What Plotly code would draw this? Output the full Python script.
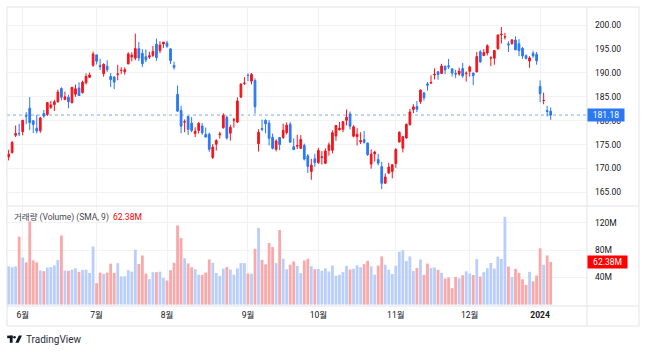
import plotly.graph_objects as go

W, H = 647, 352

dates = [
    "2023-05-25", "2023-05-26", "2023-05-30", "2023-05-31",
    "2023-06-01", "2023-06-02", "2023-06-05", "2023-06-06", "2023-06-07", "2023-06-08", "2023-06-09",
    "2023-06-12", "2023-06-13", "2023-06-14", "2023-06-15", "2023-06-16", "2023-06-20", "2023-06-21",
    "2023-06-22", "2023-06-23", "2023-06-26", "2023-06-27", "2023-06-28", "2023-06-29", "2023-06-30",
    "2023-07-03", "2023-07-05", "2023-07-06", "2023-07-07", "2023-07-10", "2023-07-11", "2023-07-12",
    "2023-07-13", "2023-07-14", "2023-07-17", "2023-07-18", "2023-07-19", "2023-07-20", "2023-07-21",
    "2023-07-24", "2023-07-25", "2023-07-26", "2023-07-27", "2023-07-28", "2023-07-31",
    "2023-08-01", "2023-08-02", "2023-08-03", "2023-08-04", "2023-08-07", "2023-08-08", "2023-08-09",
    "2023-08-10", "2023-08-11", "2023-08-14", "2023-08-15", "2023-08-16", "2023-08-17", "2023-08-18",
    "2023-08-21", "2023-08-22", "2023-08-23", "2023-08-24", "2023-08-25", "2023-08-28", "2023-08-29",
    "2023-08-30", "2023-08-31",
    "2023-09-01", "2023-09-05", "2023-09-06", "2023-09-07", "2023-09-08", "2023-09-11", "2023-09-12",
    "2023-09-13", "2023-09-14", "2023-09-15", "2023-09-18", "2023-09-19", "2023-09-20", "2023-09-21",
    "2023-09-22", "2023-09-25", "2023-09-26", "2023-09-27", "2023-09-28", "2023-09-29",
    "2023-10-02", "2023-10-03", "2023-10-04", "2023-10-05", "2023-10-06", "2023-10-09", "2023-10-10",
    "2023-10-11", "2023-10-12", "2023-10-13", "2023-10-16", "2023-10-17", "2023-10-18", "2023-10-19",
    "2023-10-20", "2023-10-23", "2023-10-24", "2023-10-25", "2023-10-26", "2023-10-27", "2023-10-30",
    "2023-10-31",
    "2023-11-01", "2023-11-02", "2023-11-03", "2023-11-06", "2023-11-07", "2023-11-08", "2023-11-09",
    "2023-11-10", "2023-11-13", "2023-11-14", "2023-11-15", "2023-11-16", "2023-11-17", "2023-11-20",
    "2023-11-21", "2023-11-22", "2023-11-24", "2023-11-27", "2023-11-28", "2023-11-29", "2023-11-30",
    "2023-12-01", "2023-12-04", "2023-12-05", "2023-12-06", "2023-12-07", "2023-12-08", "2023-12-11",
    "2023-12-12", "2023-12-13", "2023-12-14", "2023-12-15", "2023-12-18", "2023-12-19", "2023-12-20",
    "2023-12-21", "2023-12-22", "2023-12-26", "2023-12-27", "2023-12-28", "2023-12-29",
    "2024-01-02", "2024-01-03", "2024-01-04", "2024-01-05",
]

opens = [
    172.41, 173.32, 176.96, 177.33,
    177.70, 181.03, 182.63, 179.97, 178.44, 177.90, 181.50, 181.27, 182.80, 183.37, 183.96, 186.73,
    184.41, 184.90, 183.74, 185.55, 186.83, 185.89, 187.93, 189.08, 191.63,
    193.78, 191.57, 189.84, 191.41, 189.26, 189.16, 189.68, 190.50, 190.23, 191.90, 193.35, 193.10,
    195.09, 194.10, 193.41, 193.33, 193.67, 196.02, 194.67, 196.06,
    196.24, 195.04, 191.57, 185.52, 182.13, 179.69, 180.87, 179.48, 177.32, 177.97, 178.88, 177.13,
    177.14, 172.30, 175.07, 177.06, 178.52, 180.67, 177.38, 180.09, 179.70, 184.94, 187.84,
    189.49, 188.28, 188.40, 175.18, 178.35, 180.07, 179.49, 176.51, 174.00, 176.48, 176.48, 177.52,
    179.26, 174.55, 174.67, 174.20, 174.82, 172.62, 169.34, 172.02,
    171.22, 172.26, 171.09, 173.79, 173.80, 176.81, 178.10, 178.20, 180.07, 181.42, 176.75, 176.65,
    175.58, 176.04, 175.31, 170.91, 173.05, 171.88, 170.37, 166.91, 169.02, 169.35,
    171.00, 175.52, 174.24, 176.38, 179.18, 182.35, 182.96, 183.97, 185.82, 187.70, 187.85, 189.57,
    190.25, 189.89, 191.41, 191.49, 190.87, 189.92, 189.78, 190.90, 189.84,
    190.33, 189.98, 190.21, 194.45, 193.63, 194.20, 193.11, 193.08, 195.09, 198.02, 197.53, 196.09,
    196.16, 196.90, 196.10, 195.18, 193.61, 192.49, 194.14, 193.90,
    187.15, 184.22, 182.15, 181.99,
]

highs = [
    173.90, 175.77, 178.99, 179.35,
    180.12, 181.78, 184.95, 180.12, 181.21, 180.84, 182.23, 183.89, 184.15, 184.39, 186.52, 186.99,
    186.10, 185.41, 187.05, 187.56, 188.05, 188.39, 189.90, 190.07, 194.48,
    193.88, 192.98, 192.02, 192.67, 189.99, 189.30, 191.70, 191.19, 191.18, 194.32, 194.33, 198.23,
    196.47, 194.97, 194.91, 194.44, 195.64, 197.20, 196.63, 196.49,
    196.73, 195.18, 192.37, 187.38, 183.13, 180.27, 180.93, 180.75, 178.62, 179.69, 179.48, 178.54,
    177.51, 175.10, 176.13, 177.68, 181.55, 181.10, 179.15, 180.59, 184.90, 187.85, 189.12,
    189.92, 189.98, 188.85, 178.21, 180.24, 180.30, 180.13, 177.30, 176.10, 176.50, 179.38, 179.63,
    179.70, 176.30, 177.08, 176.97, 175.20, 173.04, 172.03, 173.07,
    174.30, 173.63, 174.21, 175.45, 177.99, 179.05, 179.72, 179.85, 182.34, 181.93, 179.08, 178.42,
    177.58, 177.84, 175.42, 174.01, 173.67, 173.06, 171.38, 168.96, 171.17, 170.90,
    174.23, 177.78, 176.82, 179.43, 182.44, 183.45, 184.12, 186.57, 186.03, 188.11, 189.50, 190.96,
    190.38, 191.91, 191.52, 192.93, 190.90, 190.67, 191.08, 192.09, 190.32,
    191.56, 190.05, 194.40, 194.76, 195.00, 195.99, 193.49, 194.72, 198.00, 199.62, 198.40, 196.63,
    196.95, 197.68, 197.08, 195.41, 193.89, 193.50, 194.66, 194.40,
    188.44, 185.88, 183.09, 182.76,
]

lows = [
    171.69, 173.11, 176.57, 176.76,
    176.93, 179.26, 178.04, 177.43, 177.32, 177.46, 180.63, 180.97, 182.44, 182.02, 183.78, 184.27,
    184.41, 182.59, 183.67, 185.01, 185.23, 185.67, 187.60, 188.94, 191.26,
    191.76, 190.62, 189.20, 190.24, 187.04, 186.60, 188.47, 189.78, 189.63, 191.81, 192.42, 192.65,
    192.50, 191.23, 192.25, 192.92, 193.32, 192.55, 194.14, 195.26,
    195.28, 191.85, 190.69, 181.92, 177.35, 177.58, 177.01, 177.60, 176.55, 177.31, 177.05, 176.50,
    173.48, 171.96, 173.74, 176.25, 178.33, 176.01, 175.82, 178.55, 179.50, 184.74, 187.48,
    188.28, 187.61, 181.47, 173.54, 177.79, 177.34, 174.82, 173.98, 173.58, 173.82, 176.17, 177.13,
    175.40, 173.86, 174.05, 174.15, 171.66, 169.05, 167.62, 170.34,
    170.93, 170.82, 170.97, 172.68, 173.18, 175.80, 177.95, 177.60, 179.04, 178.14, 176.51, 174.80,
    175.11, 175.19, 172.64, 169.93, 171.45, 170.65, 165.67, 166.83, 168.87, 167.90,
    170.12, 175.46, 173.35, 176.21, 178.97, 181.59, 181.81, 183.53, 184.21, 186.30, 187.78, 188.65,
    188.57, 189.88, 189.74, 190.83, 189.25, 188.90, 189.40, 188.97, 188.19,
    189.23, 187.45, 190.18, 192.11, 193.59, 193.67, 191.42, 191.72, 194.85, 196.16, 197.00, 194.39,
    195.89, 194.83, 193.50, 192.97, 192.83, 191.09, 193.17, 191.73,
    183.89, 183.43, 180.88, 180.17,
]

closes = [
    172.99, 175.43, 177.30, 177.25,
    180.09, 180.95, 179.58, 179.21, 177.82, 180.57, 180.96, 183.79, 183.31, 183.95, 186.01, 184.92,
    185.01, 183.96, 187.00, 186.68, 185.27, 188.06, 189.25, 189.59, 193.97,
    192.46, 191.33, 191.81, 190.68, 188.61, 188.08, 189.77, 190.54, 190.69, 193.99, 193.73, 195.10,
    193.13, 191.94, 192.75, 193.62, 194.50, 193.22, 195.83, 196.45,
    195.61, 192.58, 191.17, 181.99, 178.85, 179.80, 178.19, 177.97, 177.79, 179.46, 177.45, 176.57,
    174.00, 174.49, 175.84, 177.23, 181.12, 176.38, 178.61, 180.19, 184.12, 187.65, 187.87,
    189.46, 189.70, 182.91, 177.56, 178.18, 179.36, 176.30, 174.21, 175.74, 175.01, 177.97, 179.07,
    175.49, 173.93, 174.79, 176.08, 171.96, 170.43, 170.69, 171.21,
    173.75, 172.40, 173.66, 174.91, 177.49, 178.99, 178.39, 179.80, 180.71, 178.85, 178.72, 177.15,
    175.84, 175.46, 172.88, 173.00, 173.44, 171.10, 166.89, 168.22, 170.29, 170.77,
    173.97, 177.57, 176.65, 179.23, 181.82, 182.89, 182.41, 186.40, 184.80, 187.44, 188.01, 189.71,
    189.69, 191.45, 190.64, 191.31, 189.97, 189.79, 190.40, 189.37, 189.95,
    191.24, 189.43, 193.42, 192.32, 194.27, 195.71, 193.18, 194.71, 197.96, 198.11, 197.57, 195.89,
    196.94, 194.83, 194.68, 193.60, 193.05, 193.15, 193.58, 192.53,
    185.64, 184.25, 181.91, 181.18,
]

volumes_m = [
    56.06, 54.83, 55.96, 99.63,
    68.90, 61.95, 121.95, 64.85, 61.94, 50.21, 48.87, 54.27, 54.93, 57.46, 65.43, 101.24,
    49.80, 49.52, 51.25, 53.12, 48.09, 50.73, 51.22, 46.35, 85.21,
    31.46, 46.92, 45.16, 46.81, 59.92, 46.64, 60.75, 41.34, 41.57, 50.52, 48.35, 80.51,
    59.58, 71.95, 45.50, 37.28, 47.47, 47.46, 48.29, 38.82,
    35.18, 50.39, 61.24, 115.96, 97.58, 67.82, 60.38, 54.69, 51.99, 43.68, 43.62, 46.96,
    66.06, 61.11, 46.31, 42.08, 52.72, 54.95, 51.45, 43.82, 53.00, 60.81, 60.79,
    45.73, 45.28, 81.76, 112.49, 65.55, 58.95, 90.37, 84.27, 60.90, 109.26, 67.26, 51.83,
    58.44, 63.15, 56.73, 46.17, 64.59, 66.92, 56.29, 51.81,
    52.16, 49.59, 53.02, 48.53, 57.22, 42.39, 43.70, 47.55, 56.74, 51.43, 52.52, 57.55,
    54.76, 59.30, 64.19, 55.98, 43.82, 57.16, 70.63, 58.50, 51.13, 44.85,
    56.93, 77.33, 79.76, 63.84, 70.53, 49.34, 53.76, 66.13, 43.63, 60.11, 53.79, 54.41,
    50.94, 46.51, 38.13, 39.62, 24.05, 40.55, 38.42, 43.01, 48.79,
    45.68, 43.39, 66.63, 41.09, 47.48, 53.38, 60.94, 52.70, 70.40, 66.83, 128.54, 55.75,
    40.71, 52.24, 46.48, 37.15, 28.92, 48.09, 34.05, 42.63,
    82.49, 58.41, 71.98, 62.38,
]

price_ticks = [165, 170, 175, 180, 185, 190, 195, 200]
volume_ticks = [40, 80, 120]
last_price = 181.18
last_volume_label = "62.38M"

# ---- styling ----
UP = "#F5141C"
DOWN = "#2A78F4"
VOL_UP = "#B9CFFA"
VOL_DOWN = "#F9A9A9"
GRID = "#F0F2F5"
FRAME = "#E0E3EB"
TXT = "#131722"
FONT = "Roboto, 'Noto Sans CJK KR', sans-serif"

xs = list(range(len(dates)))
vol_colors = [VOL_UP if c >= o else VOL_DOWN for o, c in zip(opens, closes)]

# month ticks (first trading day of each month)
tickvals, ticktext = [], []
for i, d in enumerate(dates):
    if i == 0:
        continue
    if d[5:7] != dates[i - 1][5:7]:
        tickvals.append(i)
        m = int(d[5:7])
        ticktext.append("<b>%s</b>" % d[:4] if m == 1 else "%d월" % m)


def px(x):
    return x / W


def py(y):
    return 1 - y / H


# pixel layout
X0, X1, XR = 7, 587, 639
Y_TOP, Y_SEP, Y_VB, Y_BOT = 7, 206, 306, 326
bar_px = 3.52
first_px = 8.6

fig = go.Figure()
fig.add_trace(go.Candlestick(
    x=xs, open=opens, high=highs, low=lows, close=closes,
    increasing=dict(line=dict(color=UP, width=1), fillcolor=UP),
    decreasing=dict(line=dict(color=DOWN, width=1), fillcolor=DOWN),
    whiskerwidth=0, xaxis="x", yaxis="y", showlegend=False, hoverinfo="skip",
))
fig.add_trace(go.Bar(
    x=xs, y=volumes_m, marker=dict(color=vol_colors, line=dict(width=0)),
    xaxis="x", yaxis="y2", showlegend=False, hoverinfo="skip",
))

x_lo = (X0 - first_px) / bar_px
x_hi = (X1 - first_px) / bar_px

# price scale: 200 at y=25.2, 165 at y=192.3
p_per_px = 35 / (192.3 - 25.2)
y_top_val = 200 + (25.2 - Y_TOP) * p_per_px
y_bot_val = 165 - (Y_SEP - 192.3) * p_per_px

# volume scale: 120M at 222.7, 40M at 277.3
v_per_px = 80 / (277.3 - 222.7)
v0_px = 277.3 + 40 / v_per_px
v_top = (v0_px - Y_SEP) * v_per_px
v_bot = (v0_px - Y_VB) * v_per_px

shapes = [
    dict(type="rect", xref="paper", yref="paper", x0=px(X0), x1=px(XR), y0=py(Y_BOT), y1=py(Y_TOP),
         line=dict(color=FRAME, width=1), layer="above"),
    dict(type="line", xref="paper", yref="paper", x0=px(X1), x1=px(X1), y0=py(Y_BOT), y1=py(Y_TOP),
         line=dict(color=FRAME, width=1), layer="above"),
    dict(type="line", xref="paper", yref="paper", x0=px(X0), x1=px(XR), y0=py(Y_SEP), y1=py(Y_SEP),
         line=dict(color=FRAME, width=1), layer="above"),
    dict(type="line", xref="paper", yref="paper", x0=px(X0), x1=px(XR), y0=py(Y_VB), y1=py(Y_VB),
         line=dict(color=FRAME, width=1), layer="above"),
    dict(type="line", xref="paper", yref="y", x0=px(X0), x1=px(X1), y0=last_price, y1=last_price,
         line=dict(color=DOWN, width=1, dash="dot"), opacity=0.6, layer="below"),
    # TradingView logo mark
    dict(type="rect", xref="paper", yref="paper", x0=px(7.2), x1=px(12.6), y0=py(338.2), y1=py(335.6),
         fillcolor=TXT, line=dict(width=0)),
    dict(type="rect", xref="paper", yref="paper", x0=px(9.8), x1=px(12.6), y0=py(342.8), y1=py(335.6),
         fillcolor=TXT, line=dict(width=0)),
    dict(type="circle", xref="paper", yref="paper", x0=px(13.2), x1=px(15.8), y0=py(338.6), y1=py(336.0),
         fillcolor=TXT, line=dict(width=0)),
    dict(type="path", xref="paper", yref="paper",
         path="M %f %f L %f %f L %f %f L %f %f Z" % (px(18.8), py(335.6), px(22.0), py(335.6),
                                                     px(18.6), py(342.8), px(15.4), py(342.8)),
         fillcolor=TXT, line=dict(width=0)),
]

annotations = [
    dict(xref="paper", yref="y", x=px(X1), y=last_price, xanchor="left", yanchor="middle",
         text="181.18", showarrow=False, bgcolor=DOWN, borderpad=1, width=34,
         font=dict(color="white", size=8.5, family=FONT)),
    dict(xref="paper", yref="y2", x=px(X1), y=volumes_m[-1], xanchor="left", yanchor="middle",
         text=last_volume_label, showarrow=False, bgcolor="#FF0000", borderpad=1, width=37,
         font=dict(color="white", size=8.5, family=FONT)),
    dict(xref="paper", yref="paper", x=px(12), y=py(217), xanchor="left", yanchor="middle",
         text="거래량 (Volume) (SMA, 9)&nbsp;&nbsp;<span style='color:#FF0000'>%s</span>" % last_volume_label,
         showarrow=False, font=dict(color="#434651", size=8.5, family=FONT)),
    dict(xref="paper", yref="paper", x=px(24), y=py(339), xanchor="left", yanchor="middle",
         text="TradingView", showarrow=False, font=dict(color="#2A2E39", size=10, family=FONT)),
]

fig.update_layout(
    width=W, height=H, margin=dict(l=0, r=0, t=0, b=0),
    paper_bgcolor="white", plot_bgcolor="white",
    font=dict(family=FONT, color=TXT, size=8.5),
    bargap=0.2, showlegend=False, hovermode=False,
    xaxis=dict(domain=[px(X0), px(X1)], anchor="y2", range=[x_lo, x_hi],
               tickvals=tickvals, ticktext=ticktext, showgrid=True, gridcolor=GRID, gridwidth=1,
               zeroline=False, showline=False, ticks="", ticklabelstandoff=2,
               rangeslider=dict(visible=False), tickfont=dict(size=8.5, color=TXT)),
    yaxis=dict(domain=[py(Y_SEP), py(Y_TOP)], anchor="x", side="right",
               range=[y_bot_val, y_top_val], tickvals=price_ticks,
               ticktext=["%.2f" % v for v in price_ticks], showgrid=True, gridcolor=GRID,
               zeroline=False, showline=False, ticks="", ticklabelstandoff=7,
               tickfont=dict(size=8.5, color=TXT)),
    yaxis2=dict(domain=[py(Y_VB), py(Y_SEP)], anchor="x", side="right",
                range=[v_bot, v_top], tickvals=volume_ticks,
                ticktext=["%dM" % v for v in volume_ticks], showgrid=True, gridcolor=GRID,
                zeroline=False, showline=False, ticks="", ticklabelstandoff=7,
                tickfont=dict(size=8.5, color=TXT)),
    shapes=shapes, annotations=annotations,
)

fig.write_html("out.html", config={"displayModeBar": False})
